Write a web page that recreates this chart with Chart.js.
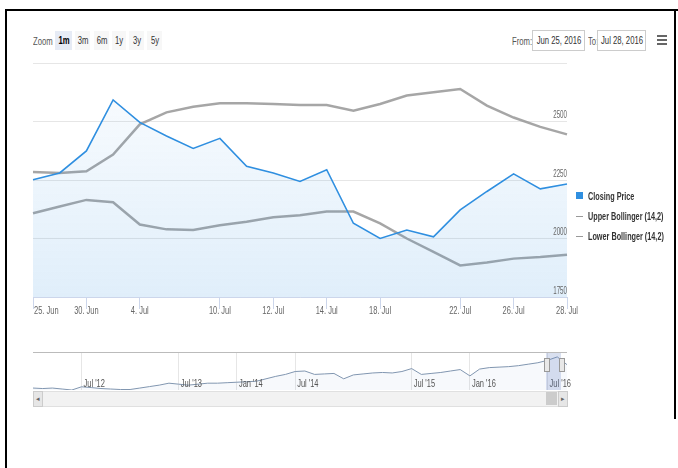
<!DOCTYPE html>
<html>
<head>
<meta charset="utf-8">
<script src="https://cdn.jsdelivr.net/npm/chart.js@4.4.1/dist/chart.umd.min.js"></script>
<style>
  body{margin:0;background:#fff;font-family:"Liberation Sans",Arial,sans-serif;}
  #wrap{position:relative;width:678px;height:468px;overflow:hidden;}
  .frame-tl{position:absolute;left:5px;top:9px;width:671px;height:470px;border-top:2px solid #000;border-left:2px solid #000;}
  .frame-r{position:absolute;left:674px;top:9px;width:2px;height:410px;background:#000;}
  .t{position:absolute;font-size:11px;color:#555;white-space:nowrap;line-height:12px;transform:scaleX(0.7);transform-origin:left center;}
  .btn,.inp{position:absolute;font-size:11px;color:#333;white-space:nowrap;}
  .btn{top:31px;height:19px;background:#f7f7f7;}
  .btn.on{background:#e6ebf5;color:#000;font-weight:bold;}
  .inp{top:30px;height:19px;border:1px solid #ccc;}
  .btn span,.inp span{position:absolute;left:50%;top:0;line-height:19px;transform:translateX(-50%) scaleX(0.7);}
  .menu{position:absolute;left:657px;width:10px;height:2px;background:#666;}
  canvas{position:absolute;}
  .leg{position:absolute;left:576px;height:12px;white-space:nowrap;}
  .leg i{position:absolute;left:0;}
  .leg b{position:absolute;left:12px;top:0;font-size:11px;line-height:12px;color:#333;transform:scaleX(0.66);transform-origin:left center;}
</style>
</head>
<body>
<div id="wrap">
  <div class="frame-tl"></div>
  <div class="frame-r"></div>

  <div class="t" style="left:33px;top:35px">Zoom</div>
  <div class="btn on" style="left:55px;width:17px"><span>1m</span></div>
  <div class="btn" style="left:75px;width:15px"><span>3m</span></div>
  <div class="btn" style="left:94px;width:15px"><span>6m</span></div>
  <div class="btn" style="left:112px;width:14px"><span>1y</span></div>
  <div class="btn" style="left:129px;width:15px"><span>3y</span></div>
  <div class="btn" style="left:147px;width:15px"><span>5y</span></div>

  <div class="t" style="left:512px;top:35px">From:</div>
  <div class="inp" style="left:532px;width:51px"><span>Jun 25, 2016</span></div>
  <div class="t" style="left:588px;top:35px">To:</div>
  <div class="inp" style="left:597px;width:47px"><span>Jul 28, 2016</span></div>
  <div class="menu" style="top:35px"></div>
  <div class="menu" style="top:39px"></div>
  <div class="menu" style="top:43px"></div>

  <canvas id="main" width="678" height="265" style="left:0;top:55px"></canvas>

  <div class="leg" style="top:190px"><i style="top:2px;width:7px;height:7px;background:#2f8fe0"></i><b>Closing Price</b></div>
  <div class="leg" style="top:210px"><i style="top:6px;width:7px;height:1px;background:#999"></i><b>Upper Bollinger (14,2)</b></div>
  <div class="leg" style="top:230px"><i style="top:6px;width:7px;height:1px;background:#999"></i><b>Lower Bollinger (14,2)</b></div>

  <div style="position:absolute;left:33px;top:352px;width:534px;height:1px;background:#bbb"></div>
  <canvas id="nav" width="678" height="46" style="left:0;top:346px"></canvas>
  <div style="position:absolute;left:546px;top:353px;width:15px;height:37px;background:rgba(102,133,194,0.25)"></div>
  <div style="position:absolute;left:544px;top:358px;width:4px;height:12px;background:#e8e8e8;border:1px solid #999"></div>
  <div style="position:absolute;left:559px;top:358px;width:4px;height:12px;background:#e8e8e8;border:1px solid #999"></div>

  <div style="position:absolute;left:33px;top:391px;width:533px;height:14px;background:#f2f2f2;border:1px solid #e0e0e0"></div>
  <div style="position:absolute;left:33px;top:391px;width:8px;height:14px;background:#e6e6e6;border:1px solid #ccc;font-size:7px;line-height:14px;text-align:center;color:#666">&#9666;</div>
  <div style="position:absolute;left:546px;top:392px;width:11px;height:13px;background:#ccc"></div>
  <div style="position:absolute;left:558px;top:391px;width:8px;height:14px;background:#e6e6e6;border:1px solid #ccc;font-size:7px;line-height:14px;text-align:center;color:#666">&#9656;</div>
</div>

<script>
// eje x principal (días de cotización, solo algunos llevan etiqueta)
const tickLabels = ['25. Jun','','30. Jun','','4. Jul','','','10. Jul','','12. Jul','','14. Jul','','18. Jul','','','22. Jul','','26. Jul','','28. Jul'];
const yTicks = [1750, 2000, 2250, 2500];

const closingPrice = [2251,2280,2374,2592,2496,2438,2385,2428,2309,2280,2244,2294,2065,2000,2036,2007,2122,2201,2276,2212,2233];
const upperBollinger = [2284,2280,2287,2359,2488,2539,2563,2578,2578,2575,2570,2570,2546,2575,2611,2625,2639,2568,2517,2477,2445];
const lowerBollinger = [2108,2137,2165,2155,2060,2039,2036,2057,2072,2091,2099,2115,2115,2065,2000,1943,1885,1897,1914,1921,1931];

// navegador (histórico largo)
const navValues = [1080,1060,1080,1040,1000,1132,1100,1060,1040,1020,1020,1080,1140,1200,1280,1240,1200,1240,1280,1280,
  1300,1320,1340,1360,1460,1560,1640,1760,1780,1640,1660,1680,1460,1620,1660,1700,1720,1700,1760,1880,
  1640,1680,1720,1780,1840,1580,1860,1920,1940,1960,2000,2060,2120,2220,2360,2040];
const navTickLabels = {5:"Jul '12",15:"Jul '13",21:"Jan '14",27:"Jul '14",39:"Jul '15",45:"Jan '16",53:"Jul '16"};

const FONT = '"Liberation Sans", Arial, sans-serif';

// texto estrecho (la fuente original es condensada)
function narrowText(c, text, x, y, align, sx){
	c.save();
	c.translate(x, y);
	c.scale(sx, 1);
	c.textAlign = align;
	c.fillText(text, 0, 0);
	c.restore();
}

function areaGradient(ctx){
	const {chart} = ctx;
	const area = chart.chartArea;
	if(!area) return 'rgba(47,143,224,0.08)';
	const g = chart.ctx.createLinearGradient(0, area.top, 0, area.bottom);
	g.addColorStop(0, 'rgba(47,143,224,0.02)');
	g.addColorStop(1, 'rgba(47,143,224,0.15)');
	return g;
}

const axisLabels = {
	id: 'axisLabels',
	afterDraw(chart){
		const c = chart.ctx;
		const xs = chart.scales.x, ys = chart.scales.y;
		const area = chart.chartArea;
		c.save();
		c.font = '11px ' + FONT;
		c.fillStyle = '#666';
		c.textBaseline = 'middle';
		tickLabels.forEach((t, i) => {
			if(!t) return;
			const x = xs.getPixelForTick(i);
			narrowText(c, t, i === 0 ? x + 1 : x, area.bottom + 14, i === 0 ? 'left' : 'center', 0.68);
		});
		c.font = '10px ' + FONT;
		yTicks.forEach(v => {
			narrowText(c, String(v), area.right, ys.getPixelForValue(v) - 6, 'right', 0.62);
		});
		c.restore();
	}
};

new Chart(document.getElementById('main'), {
	type: 'line',
	data: {
		labels: tickLabels,
		datasets: [
			{ label: 'Closing Price', data: closingPrice, borderColor: '#2f8fe0', borderWidth: 1.6,
				fill: 'start', backgroundColor: areaGradient, pointRadius: 0, tension: 0 },
			{ label: 'Upper Bollinger (14,2)', data: upperBollinger, borderColor: 'rgba(150,150,150,0.85)', borderWidth: 2.5,
				fill: false, pointRadius: 0, tension: 0 },
			{ label: 'Lower Bollinger (14,2)', data: lowerBollinger, borderColor: 'rgba(150,150,150,0.85)', borderWidth: 2.5,
				fill: false, pointRadius: 0, tension: 0 }
		]
	},
	options: {
		responsive: false,
		animation: false,
		layout: { padding: { left: 33, right: 111, top: 8, bottom: 11 } },
		plugins: { legend: { display: false }, tooltip: { enabled: false } },
		scales: {
			x: {
				offset: false,
				grid: { drawOnChartArea: false, drawTicks: true, tickLength: 12,
					tickColor: c => tickLabels[c.index] ? '#ccd6eb' : 'rgba(0,0,0,0)' },
				border: { color: '#ccd6eb' },
				ticks: { display: false, autoSkip: false }
			},
			y: {
				position: 'right',
				min: 1750, max: 2750,
				grid: { color: '#e6e6e6', drawTicks: false },
				border: { display: false },
				ticks: { display: false, stepSize: 250 }
			}
		}
	},
	plugins: [axisLabels]
});

// etiquetas del navegador dentro del área
const navLabelsPlugin = {
	id: 'navLabels',
	afterDatasetsDraw(chart){
		const c = chart.ctx;
		const xs = chart.scales.x;
		const bottom = chart.chartArea.bottom;
		c.save();
		c.font = '11px ' + FONT;
		c.fillStyle = '#555';
		c.textBaseline = 'bottom';
		Object.keys(navTickLabels).forEach(k => {
			narrowText(c, navTickLabels[k], xs.getPixelForValue(+k) + 2, bottom - 1, 'left', 0.68);
		});
		c.restore();
	}
};

new Chart(document.getElementById('nav'), {
	type: 'line',
	data: {
		labels: navValues.map((v, i) => i),
		datasets: [{ data: navValues, borderColor: '#8196b0', borderWidth: 1, pointRadius: 0, tension: 0,
			fill: 'start', backgroundColor: 'rgba(102,133,194,0.05)' }]
	},
	options: {
		responsive: false,
		animation: false,
		layout: { padding: { left: 33, right: 111, top: 7, bottom: 2 } },
		plugins: { legend: { display: false }, tooltip: { enabled: false } },
		scales: {
			x: {
				offset: false,
				ticks: { display: false },
				border: { display: false },
				grid: { drawTicks: false, color: c => navTickLabels[c.index] ? '#e6e6e6' : 'rgba(0,0,0,0)' }
			},
			y: { display: false, min: 1000, max: 2520 }
		}
	},
	plugins: [navLabelsPlugin]
});
</script>
</body>
</html>
